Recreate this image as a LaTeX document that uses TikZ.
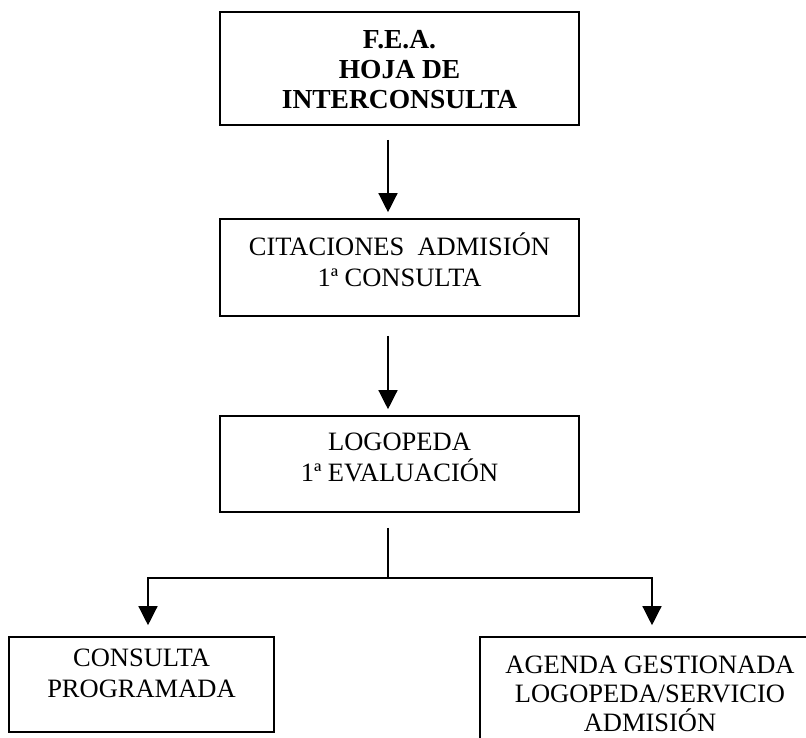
\documentclass[tikz,border=0pt]{standalone}
\usepackage{fontspec}
\setmainfont{Liberation Serif}
\usetikzlibrary{arrows.meta,positioning}
\begin{document}
\begin{tikzpicture}[x=1pt,y=-1pt,
  box/.style={draw=black,line width=1.6pt,inner sep=0pt},
  txt/.style={align=center,inner sep=0pt,font=\fontsize{26.5}{31}\selectfont},
  conn/.style={line width=1.3pt},
  arr/.style={line width=1.3pt,-{Triangle[length=19pt,width=19pt]}}]
\clip (0,0) rectangle (806,737);
\fill[white] (0,0) rectangle (806,737);
% boxes
\node[box,minimum width=359pt,minimum height=113pt] (b1) at (399.5,68.5) {};
\node[box,minimum width=359pt,minimum height=97pt] (b2) at (399.5,267.5) {};
\node[box,minimum width=359pt,minimum height=96pt] (b3) at (399.5,464) {};
\node[box,minimum width=265pt,minimum height=95pt] (b4) at (141.5,684.5) {};
\node[box,minimum width=344pt,minimum height=130pt] (b5) at (652,702) {};
% texts
\node[txt,font=\fontsize{27.5}{30}\selectfont\bfseries] (t1) at (399.5,70) {F.E.A.\\HOJA DE\\INTERCONSULTA};
\node[txt] (t2) at (399.5,260) {CITACIONES\ \ ADMISIÓN\\1ª CONSULTA};
\node[txt] (t3) at (399.5,457) {LOGOPEDA\\1ª EVALUACIÓN};
\node[txt] (t4) at (141.5,673) {CONSULTA\\PROGRAMADA};
\node[txt,font=\fontsize{26.5}{29}\selectfont] (t5) at (650,694) {AGENDA GESTIONADA\\LOGOPEDA/SERVICIO\\ADMISIÓN};
% connectors
\coordinate (br) at (388,578);
\draw[arr] ([xshift=-11.5pt,yshift=-14pt]b1.south) -- ([xshift=-11.5pt,yshift=6pt]b2.north);
\draw[arr] ([xshift=-11.5pt,yshift=-19pt]b2.south) -- ([xshift=-11.5pt,yshift=6pt]b3.north);
\draw[conn] ([xshift=-11.5pt,yshift=-15pt]b3.south) -- (br);
\draw[arr] (br) -| ([xshift=6.5pt,yshift=11pt]b4.north);
\draw[arr] (br) -| ([yshift=11pt]b5.north);
\end{tikzpicture}
\end{document}
